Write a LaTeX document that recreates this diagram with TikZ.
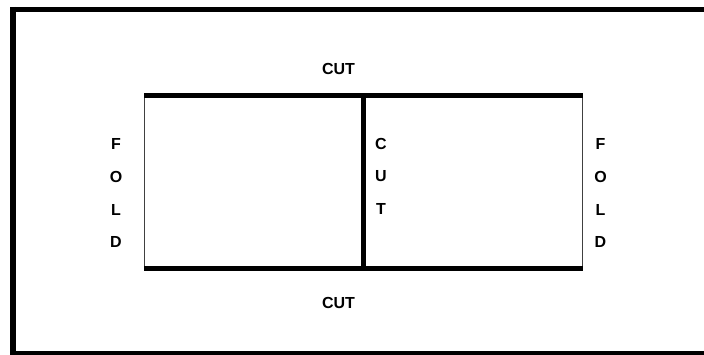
\documentclass[tikz,border=0pt]{standalone}
\usepackage{fontspec}
\setmainfont{Liberation Sans}
\begin{document}
\begin{tikzpicture}[x=1pt,y=-1pt,
  lbl/.style={font=\bfseries\fontsize{16}{18}\selectfont, inner sep=0pt, anchor=center},
  cutline/.style={line width=5pt, line cap=butt},
  foldline/.style={line width=1pt, draw=black!75}]
\useasboundingbox (0,0) rectangle (704,354);
\fill[white] (0,0) rectangle (704,354);
% outer frame
\draw[line width=5.5pt] (13.2,9.5) -- (708,9.5);
\draw[line width=5.5pt] (13.2,6.75) -- (13.2,356.6);
\draw[line width=5.5pt] (10.5,353.8) -- (708,353.8);
% coordinates
\coordinate (tl) at (144,95.8);
\coordinate (tr) at (582.5,95.8);
\coordinate (bl) at (144,268.3);
\coordinate (br) at (582.5,268.3);
\coordinate (tm) at (363.3,93.3);
\coordinate (bm) at (363.3,270.8);
% fold lines
\draw[foldline] (144.5,95.8) -- (144.5,268.3);
\draw[foldline] (582,95.8) -- (582,268.3);
% cut lines
\draw[cutline] (tl) -- (tr);
\draw[cutline] (bl) -- (br);
\draw[cutline] (tm) -- (bm);
% labels
\node[lbl] (cuttop) at (338.5,69) {CUT};
\node[lbl] (cutbot) at (338.5,303) {CUT};
\node[lbl] (lf) at (116,143.5) {F};
\node[lbl] (lo) at (116,176.5) {O};
\node[lbl] (ll) at (116,209.5) {L};
\node[lbl] (ld) at (116,242) {D};
\node[lbl] (rf) at (600.5,143.5) {F};
\node[lbl] (ro) at (600.5,176.5) {O};
\node[lbl] (rl) at (600.5,209.5) {L};
\node[lbl] (rd) at (600.5,242) {D};
\node[lbl] (mc) at (381,143.5) {C};
\node[lbl] (mu) at (381,176) {U};
\node[lbl] (mt) at (381,208.5) {T};
\end{tikzpicture}
\end{document}
